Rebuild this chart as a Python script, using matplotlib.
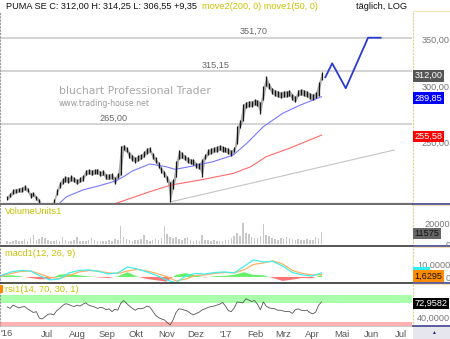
import numpy as np
import pandas as pd
import matplotlib
matplotlib.use("Agg")
import matplotlib.pyplot as plt
import matplotlib.dates as mdates
import matplotlib.transforms as mtransforms
from matplotlib.patches import Rectangle
from matplotlib.ticker import NullLocator

plt.rcParams["font.family"] = ["Liberation Sans", "DejaVu Sans"]

# ---- price bars (one bar every 3 calendar days, last one 10 Apr 2017) ----
highs = [209.5, 211.5, 214, 214.5, 215, 215.5, 217, 215, 211.5, 212,
         209.5, 207.5, 203, 200, 201, 202, 207, 214, 219, 222,
         223.5, 222.5, 224, 222.5, 221, 222.5, 224, 228, 228.5, 228,
         228.5, 229, 227, 228, 225, 225, 225.5, 222.5, 226, 247,
         247.5, 246, 242, 239.5, 237.5, 239.5, 240, 242.5, 245, 245.5,
         241, 237.5, 234, 230, 227, 223.5, 219.5, 221, 235, 243.5,
         241.5, 239.5, 237.5, 236.5, 236, 233.5, 233, 236.5, 240, 244,
         245, 245.5, 246.5, 247.5, 246.5, 245.5, 245, 243, 245.5, 263,
         268.5, 283, 285, 286, 286, 287.5, 287, 285, 300, 310.5,
         303, 298.5, 296.5, 295.5, 294.5, 295.5, 295.5, 296.5, 292.5, 290.5,
         296.5, 297.5, 296.5, 295.5, 293.5, 292.5, 294.5, 304, 314.25]
lows = [206.5, 208.5, 210.5, 211.5, 212, 212, 213.5, 212, 208, 209,
        206.5, 204.5, 200, 196, 198, 199, 203.5, 210, 215, 218,
        219.5, 218.5, 220, 219, 217.5, 219, 220, 224, 225, 224,
        225, 225, 223.5, 224, 221, 221, 221.5, 217.5, 222, 224,
        243, 241.5, 237, 235, 233.5, 235, 236, 238, 240.5, 241.5,
        236.5, 233.5, 229.5, 226, 223, 219, 205.5, 214, 222.5, 236,
        237, 235.5, 233.5, 232.5, 232, 229.5, 229, 223, 236, 239.5,
        240.5, 241.5, 242, 243, 242, 241.5, 240.5, 239, 241.5, 248,
        261.5, 268, 279.5, 280.5, 280.5, 282, 281, 274, 287, 300,
        297, 292.5, 290.5, 289.5, 288.5, 289.5, 289.5, 290.5, 286.5, 284.5,
        290.5, 291.5, 290.5, 289.5, 287.5, 286.5, 288.5, 291, 306.55]
volume = [3000, 2500, 3500, 4000, 3000, 3500, 5000, 3500, 6000, 8500,
          4000, 5000, 7000, 5500, 4000, 3000, 3500, 4500, 3500, 7000,
          4000, 3500, 3000, 4000, 6500, 3500, 3000, 3500, 4500, 6000,
          4000, 3500, 3000, 3500, 3000, 4000, 3500, 5000, 4000, 17000,
          7000, 5000, 4000, 3500, 4500, 4000, 5000, 9000, 4500, 3500,
          4000, 5000, 4500, 6000, 17500, 10000, 6500, 5500, 7000, 5000,
          4000, 5500, 6500, 4000, 3500, 4000, 3500, 9000, 4500, 4000,
          3500, 4000, 3500, 3000, 3500, 4000, 4500, 6000, 7500, 10500,
          8000, 20000, 11000, 10000, 7000, 6000, 5500, 8000, 19500, 9000,
          7500, 6000, 5000, 4500, 6000, 5000, 6500, 5500, 5000, 4500,
          5000, 4000, 4500, 5000, 4000, 4500, 7000, 5500, 11575]
rsi = [62, 59, 66, 63, 60, 62, 63, 58, 54, 50,
       52, 38, 36, 41, 46, 47, 45, 54, 59, 65,
       69, 68, 65, 63, 66, 64, 68, 71, 66, 64,
       62, 59, 61, 60, 56, 58, 52, 57, 55, 70,
       76, 70, 64, 59, 55, 59, 58, 60, 64, 62,
       53, 44, 39, 36, 34, 28, 23, 34, 50, 58,
       57, 55, 53, 48, 45, 48, 51, 56, 58, 61,
       63, 64, 66, 68, 72, 64, 54, 52, 60, 73,
       72, 71, 80, 77, 74, 76, 68, 56, 73, 64,
       60, 59, 58, 55, 55, 53, 52, 52, 48, 56,
       58, 55, 54, 55, 50, 47, 51, 66, 72.96]

# ---- MACD (every 10 days) ----
macd = [1.1, 3.7, 4.8, 4.4, 0.7, -2.2, -1.5, 3.0, 4.8, 5.2,
        4.1, 2.2, 3.0, 7.4, 5.9, 3.7, 1.1, -2.2, -4.4, 0.7,
        2.6, 2.2, 3.3, 3.7, 3.0, 7.8, 12.6, 11.1, 11.5, 8.1,
        3.3, 1.5, 0.7, 3.0]
signal = [0.7, 2.6, 4.1, 4.4, 2.2, -0.4, -1.1, 1.1, 3.7, 4.7,
          4.4, 3.0, 2.6, 4.4, 5.6, 4.4, 2.6, 0.4, -3.0, -1.5,
          1.1, 1.5, 2.6, 3.3, 3.0, 5.2, 9.3, 10.4, 11.9, 9.6,
          4.8, 2.6, 1.5, 1.63]
hist = [1.0, 1.2, 0.5, -0.8, -1.8, -1.5, 1.8, 2.0, 1.2, 0.4,
        -0.3, -0.8, 0.5, 3.5, 0.3, -1.5, -2.5, -3.5, 1.5, 2.8,
        1.2, -0.4, 0.6, 0.8, 1.5, 3.5, 1.5, 1.2, -0.8, -3.0,
        -2.0, -0.8, -1.0, 1.2]

# ---- moving averages, trend line, projection ----
ma50_dates = ["2016-06-28", "2016-07-12", "2016-07-21", "2016-08-07", "2016-08-24",
              "2016-09-10", "2016-09-19", "2016-09-27", "2016-10-15", "2016-11-01",
              "2016-11-10", "2016-11-28", "2016-12-19", "2017-01-09", "2017-01-23",
              "2017-02-09", "2017-03-01", "2017-03-19", "2017-04-10"]
ma50 = [198.6, 203.2, 208.8, 213.5, 216.5, 219.9, 223.5, 227.2, 232.5, 230.4,
        228.4, 230.9, 234.2, 239.4, 248.8, 262.7, 274.5, 282.0, 289.85]
ma200_dates = ["2016-08-19", "2016-09-05", "2016-10-15", "2016-11-06", "2016-12-06",
               "2017-01-09", "2017-01-27", "2017-02-12", "2017-03-08", "2017-04-10"]
ma200 = [198.6, 203.2, 212.3, 217.0, 220.6, 225.4, 230.4, 238.1, 244.8, 255.58]
trend_dates = ["2016-11-06", "2017-06-24"]
trend = [205.4, 243.4]
proj_dates = ["2017-04-14", "2017-04-21", "2017-05-05", "2017-05-28", "2017-06-10"]
proj = [309.0, 323.4, 298.0, 351.7, 351.7]

levels = [351.70, 315.15, 265.00]
level_text = ["351,70", "315,15", "265,00"]

months = pd.date_range("2016-07-01", "2017-07-01", freq="MS")
month_labels = ["Jul", "Aug", "Sep", "Okt", "Nov", "Dez", "'17",
                "Feb", "Mrz", "Apr", "Mai", "Jun", "Jul"]

bar_dates = pd.date_range(end="2017-04-10", periods=len(highs), freq="3D")
ind_dates = pd.date_range(end="2017-04-10", periods=len(macd), freq="10D")

W, H = 450, 339
fig = plt.figure(figsize=(W / 100, H / 100), dpi=100)
fig.patch.set_facecolor("white")


def box(top, bottom, left=0, right=412):
    return [left / W, 1 - bottom / H, (right - left) / W, (bottom - top) / H]


def rect(x0, y0, x1, y1, **kw):
    fig.add_artist(Rectangle((x0 / W, 1 - y1 / H), (x1 - x0) / W, (y1 - y0) / H,
                             transform=fig.transFigure, lw=0, **kw))


ax_p = fig.add_axes(box(11, 204))
ax_v = fig.add_axes(box(205, 246), sharex=ax_p)
ax_m = fig.add_axes(box(247, 283), sharex=ax_p)
ax_r = fig.add_axes(box(284, 326), sharex=ax_p)
ax_p.set_yscale("log")

for a, col, lw in [(ax_p, "#707070", 1.6), (ax_v, "#555555", 1.4),
                   (ax_m, "#333333", 1.2), (ax_r, "#cccccc", 0.8)]:
    a.spines["top"].set_visible(False)
    a.spines["right"].set_visible(False)
    a.spines["left"].set_linestyle((0, (1, 2)))
    a.spines["left"].set_color("#999999")
    a.spines["left"].set_linewidth(0.8)
    a.spines["bottom"].set_color(col)
    a.spines["bottom"].set_linewidth(lw)
    a.yaxis.set_major_locator(NullLocator())
    a.yaxis.set_minor_locator(NullLocator())
    a.tick_params(axis="x", bottom=False, labelbottom=False, length=0)

# main price panel
for lv in levels:
    ax_p.axhline(lv, color="#c8c8c8", lw=1.1, zorder=1)
ax_p.plot(pd.to_datetime(trend_dates), trend, color="#c4c4c4", lw=0.8)
ax_p.plot(pd.to_datetime(ma200_dates), ma200, color="#ff6a6a", lw=0.8)
ax_p.plot(pd.to_datetime(ma50_dates), ma50, color="#7878ff", lw=0.8)
ax_p.fill_between(bar_dates, lows, highs, color="#777777", lw=0, alpha=0.6)
ax_p.vlines(bar_dates, lows, highs, color="#151515", lw=0.9)
ax_p.plot(pd.to_datetime(proj_dates), proj, color="#2b3bd0", lw=1.3)
ax_p.set_ylim(203.9, 383.9)

t0 = mdates.date2num(pd.Timestamp("2016-07-01"))
ax_p.set_xlim(t0 - 48.45, t0 + 376.3)

lvl_tr = mtransforms.offset_copy(
    mtransforms.blended_transform_factory(ax_p.transAxes, ax_p.transData),
    fig=fig, y=1.5, units="dots")
for lv, s, xf in zip(levels, level_text, [0.6165, 0.524, 0.276]):
    ax_p.text(xf, lv, s, transform=lvl_tr, ha="center", va="bottom",
              fontsize=6.6, color="#666666")

ax_p.text(59 / 412, 0.588, "bluchart Professional Trader", transform=ax_p.transAxes,
          family="DejaVu Sans", fontsize=7.8, color="#a8a8a8", va="center")
ax_p.text(59 / 412, 0.521, "www.trading-house.net", transform=ax_p.transAxes,
          family="DejaVu Sans", fontsize=5.6, color="#999999", va="center")

# volume
ax_v.bar(bar_dates, volume, width=1.6, color="#c8c8c8")
ax_v.set_ylim(-1600, 36900)

# macd
h = np.array(hist)
ax_m.fill_between(ind_dates, 0, h, where=h >= 0, interpolate=True, color="#66ee66", lw=0)
ax_m.fill_between(ind_dates, 0, h, where=h <= 0, interpolate=True, color="#ff7474", lw=0)
ax_m.plot(ind_dates, signal, color="#ffb060", lw=0.9)
ax_m.plot(ind_dates, macd, color="#40f0f0", lw=0.9)
ax_m.set_ylim(-4.5, 22.2)

# rsi
ax_r.axhspan(70, 88, color="#aaffaa", lw=0)
ax_r.axhspan(20.7, 30, color="#ffb0b0", lw=0)
ax_r.plot(bar_dates, rsi, color="#555555", lw=0.6)
ax_r.set_ylim(20.7, 112)

ax_r.set_xticks(months)
ax_r.set_xticklabels(month_labels)
ax_r.tick_params(axis="x", bottom=False, labelbottom=True, labelsize=6.8,
                 labelcolor="#555555", pad=3, length=0)
fig.text(0.5 / W, 1 - 334 / H, "'16", fontsize=6.8, color="#555555", va="center")

# right label areas
panels = [(ax_p, 11, 204), (ax_v, 205, 246), (ax_m, 247, 283), (ax_r, 284, 326)]
right = {}
for a, top, bottom in panels:
    r = fig.add_axes(box(top, bottom, 413, 450), sharey=a)
    r.set_xticks([])
    r.patch.set_alpha(0)
    r.spines["right"].set_visible(False)
    r.spines["top"].set_color("#f0e2b0")
    r.spines["left"].set_color("#e6cf8a")
    r.spines["left"].set_linestyle((0, (1, 2)))
    r.spines["bottom"].set_color("#40408a")
    r.spines["bottom"].set_linewidth(1.2)
    right[a] = r


def rlab(a, y, s, xpx, fc=None, tc="#777777"):
    r = right[a]
    tr = mtransforms.offset_copy(
        mtransforms.blended_transform_factory(r.transAxes, r.transData),
        fig=fig, y=-1.5, units="dots")
    kw = {}
    if fc:
        kw["bbox"] = dict(boxstyle="square,pad=0.15", fc=fc, ec="none")
    r.text((xpx - 413) / 37, y, s, transform=tr, ha="left", va="center",
           fontsize=6.6, color=tc, clip_on=False, **kw)


rlab(ax_p, 350, "350,00", 421.5)
rlab(ax_p, 300, "300,00", 421.5)
rlab(ax_p, 250, "250,00", 421.5)
rlab(ax_p, 312.0, "312,00", 414.5, fc="#555555", tc="white")
rlab(ax_p, 289.85, "289,85", 414.5, fc="#0000ff", tc="white")
rlab(ax_p, 255.58, "255,58", 414.5, fc="#ff0000", tc="white")
rlab(ax_v, 20000, "20000", 424)
rlab(ax_v, 0, "0", 445.5)
rlab(ax_v, 11575, "11575", 414.5, fc="#666666", tc="#111111")
rect(413, 267, 430, 270, fc="#30f0f0")
rlab(ax_m, 10, "10,0000", 417)
rlab(ax_m, 0, "0", 445.5)
rlab(ax_m, 1.63, "1,6295", 414.5, fc="#ff8c00", tc="#111111")
rlab(ax_r, 72.96, "72,9582", 414.5, fc="#000000", tc="white")
rlab(ax_r, 40, "40,0000", 416.5)

rect(413, 327, 450, 339, fc="#e6e6ee")
fig.text(433 / W, 1 - 333 / H, "\u25b2", fontsize=3.5, color="#202080",
         ha="center", va="center")
rect(0, 285, 2.5, 293, fc="#ff8800")

# header and panel titles
fig.text(6 / W, 1 - 6.3 / H, "PUMA SE C: 312,00 H: 314,25 L: 306,55 +9,35",
         fontsize=6.6, color="#111111", va="center")
fig.text(202.5 / W, 1 - 6.3 / H, "move2(200, 0) move1(50, 0)",
         fontsize=6.6, color="#c9c200", va="center")
fig.text(356.5 / W, 1 - 6.3 / H, "täglich, LOG", fontsize=6.6, color="#111111",
         va="center")
for s, y in [("VolumeUnits1", 211.7), ("macd1(12, 26, 9)", 253),
             ("rsi1(14, 70, 30, 1)", 289)]:
    fig.text(5 / W, 1 - y / H, s, fontsize=6.7, color="#c9c200", va="center")

fig.savefig("out.png", dpi=100)
